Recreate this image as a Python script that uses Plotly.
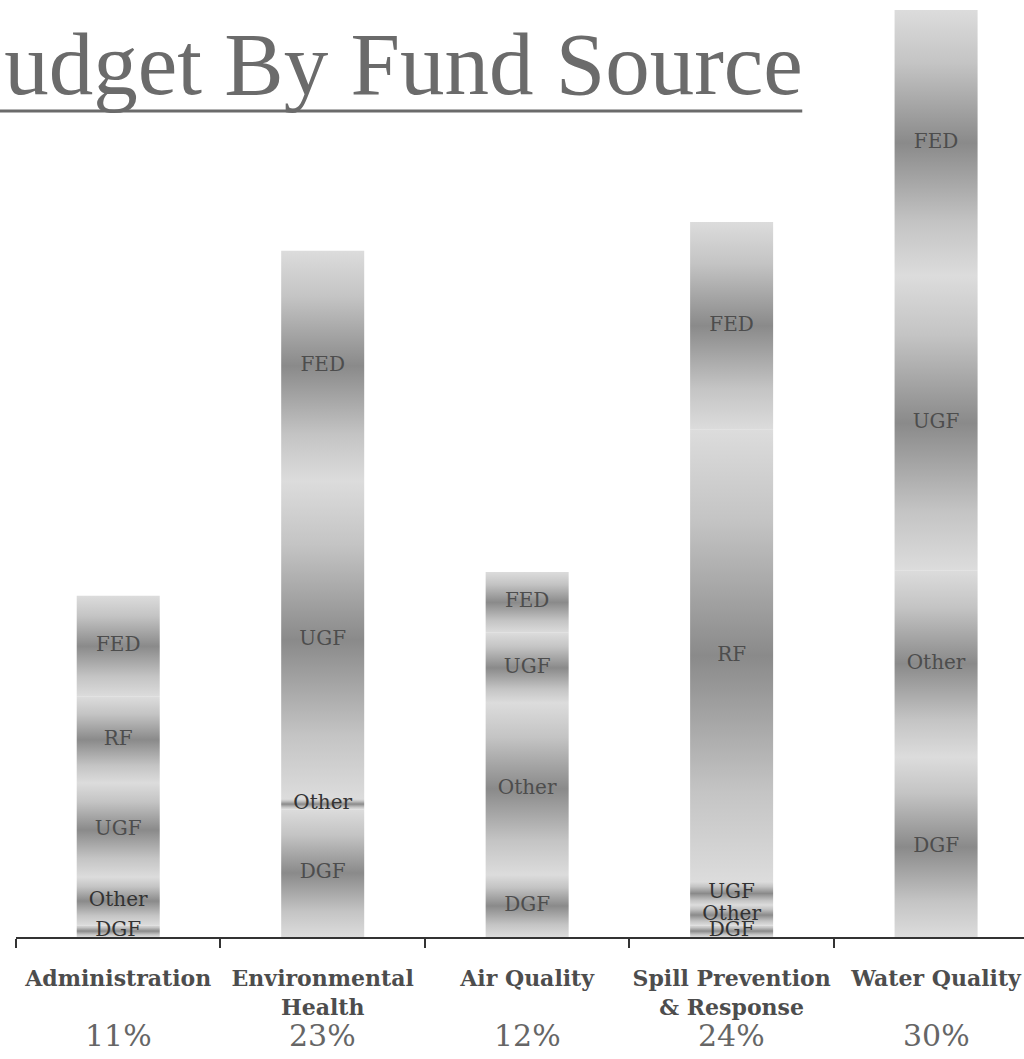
import plotly.graph_objects as go

# Programme areas and their share of the total budget
categories = ["Administration", "Environmental<br>Health", "Air Quality",
              "Spill Prevention<br>& Response", "Water Quality"]
shares = ["11%", "23%", "12%", "24%", "30%"]

# Fund sources, stacked from the bottom up (percent of total budget)
sources = ["DGF", "Other", "UGF", "RF", "FED"]
dgf = [0.39, 4.20, 2.04, 0.39, 5.91]
other = [1.58, 0.33, 5.65, 0.66, 6.14]
ugf = [3.09, 10.45, 2.30, 0.76, 9.66]
rf = [2.83, 0.00, 0.00, 14.85, 0.00]
fed = [3.32, 7.56, 2.00, 6.83, 8.74]

series = {"DGF": dgf, "Other": other, "UGF": ugf, "RF": rf, "FED": fed}

BAR_HALF = 0.203
SHADE = [[0, "#dcdcdc"], [0.2, "#c4c4c4"], [0.5, "#8a8a8a"],
         [0.8, "#c4c4c4"], [1, "#dcdcdc"]]
LABEL_COLOR = "#4d4d4d"
SMALL_LABEL_COLOR = "#333333"

fig = go.Figure()

totals = [0.0] * len(categories)
label_x, label_y, label_t, label_c = [], [], [], []
for name in sources:
    vals = series[name]
    for i, v in enumerate(vals):
        if v <= 0:
            continue
        base = totals[i]
        top = base + v
        fig.add_trace(go.Scatter(
            x=[i - BAR_HALF, i + BAR_HALF, i + BAR_HALF, i - BAR_HALF, i - BAR_HALF],
            y=[base, base, top, top, base],
            mode="lines",
            line=dict(width=0),
            fill="toself",
            fillgradient=dict(type="vertical", start=base, stop=top,
                              colorscale=SHADE),
            hoverinfo="skip",
            showlegend=False,
        ))
        small = v < 1.7
        label_x.append(i)
        label_y.append(base + v / 2)
        label_t.append(name)
        label_c.append(SMALL_LABEL_COLOR if small else LABEL_COLOR)
        totals[i] = top

# Fund-source labels in the middle of each segment
fig.add_trace(go.Scatter(
    x=label_x, y=label_y, text=label_t, mode="text",
    textfont=dict(family="DejaVu Serif", size=20, color=label_c),
    hoverinfo="skip", showlegend=False,
))

# Share of the budget under each programme
for i, s in enumerate(shares):
    fig.add_annotation(
        x=i, y=0, xref="x", yref="paper", yshift=-98,
        text=s, showarrow=False, yanchor="middle",
        font=dict(family="DejaVu Serif", size=30, color="#666666"),
    )

# Title, underlined
fig.add_annotation(
    x=0.783, y=1.0, xref="paper", yref="paper", xanchor="right", yanchor="top",
    yshift=-3, text="Budget By Fund Source", showarrow=False,
    font=dict(family="Liberation Serif", size=89, color="#6b6b6b"),
)
fig.add_shape(type="line", xref="paper", yref="paper",
              x0=-0.02, x1=0.78, y0=0.891, y1=0.891,
              line=dict(color="#6b6b6b", width=3))

fig.update_xaxes(
    range=[-0.5, 4.43],
    tickmode="array",
    tickvals=list(range(len(categories))),
    ticktext=["<b>" + c + "</b>" for c in categories],
    ticks="",
    ticklabelstandoff=21,
    tickfont=dict(family="DejaVu Serif", size=22, color=LABEL_COLOR),
    showline=True, linecolor="#333333", linewidth=2,
    showgrid=False, zeroline=False,
    minor=dict(tickmode="array", tickvals=[-0.5, 0.5, 1.5, 2.5, 3.5],
               ticks="outside", ticklen=9, tickwidth=1.5, tickcolor="#333333"),
)
fig.update_yaxes(range=[0, 30.45], visible=False, showgrid=False)

fig.update_layout(
    width=1024, height=1059,
    margin=dict(l=16, r=0, t=10, b=122),
    paper_bgcolor="white", plot_bgcolor="white",
    showlegend=False,
)

fig.write_html("out.html")
